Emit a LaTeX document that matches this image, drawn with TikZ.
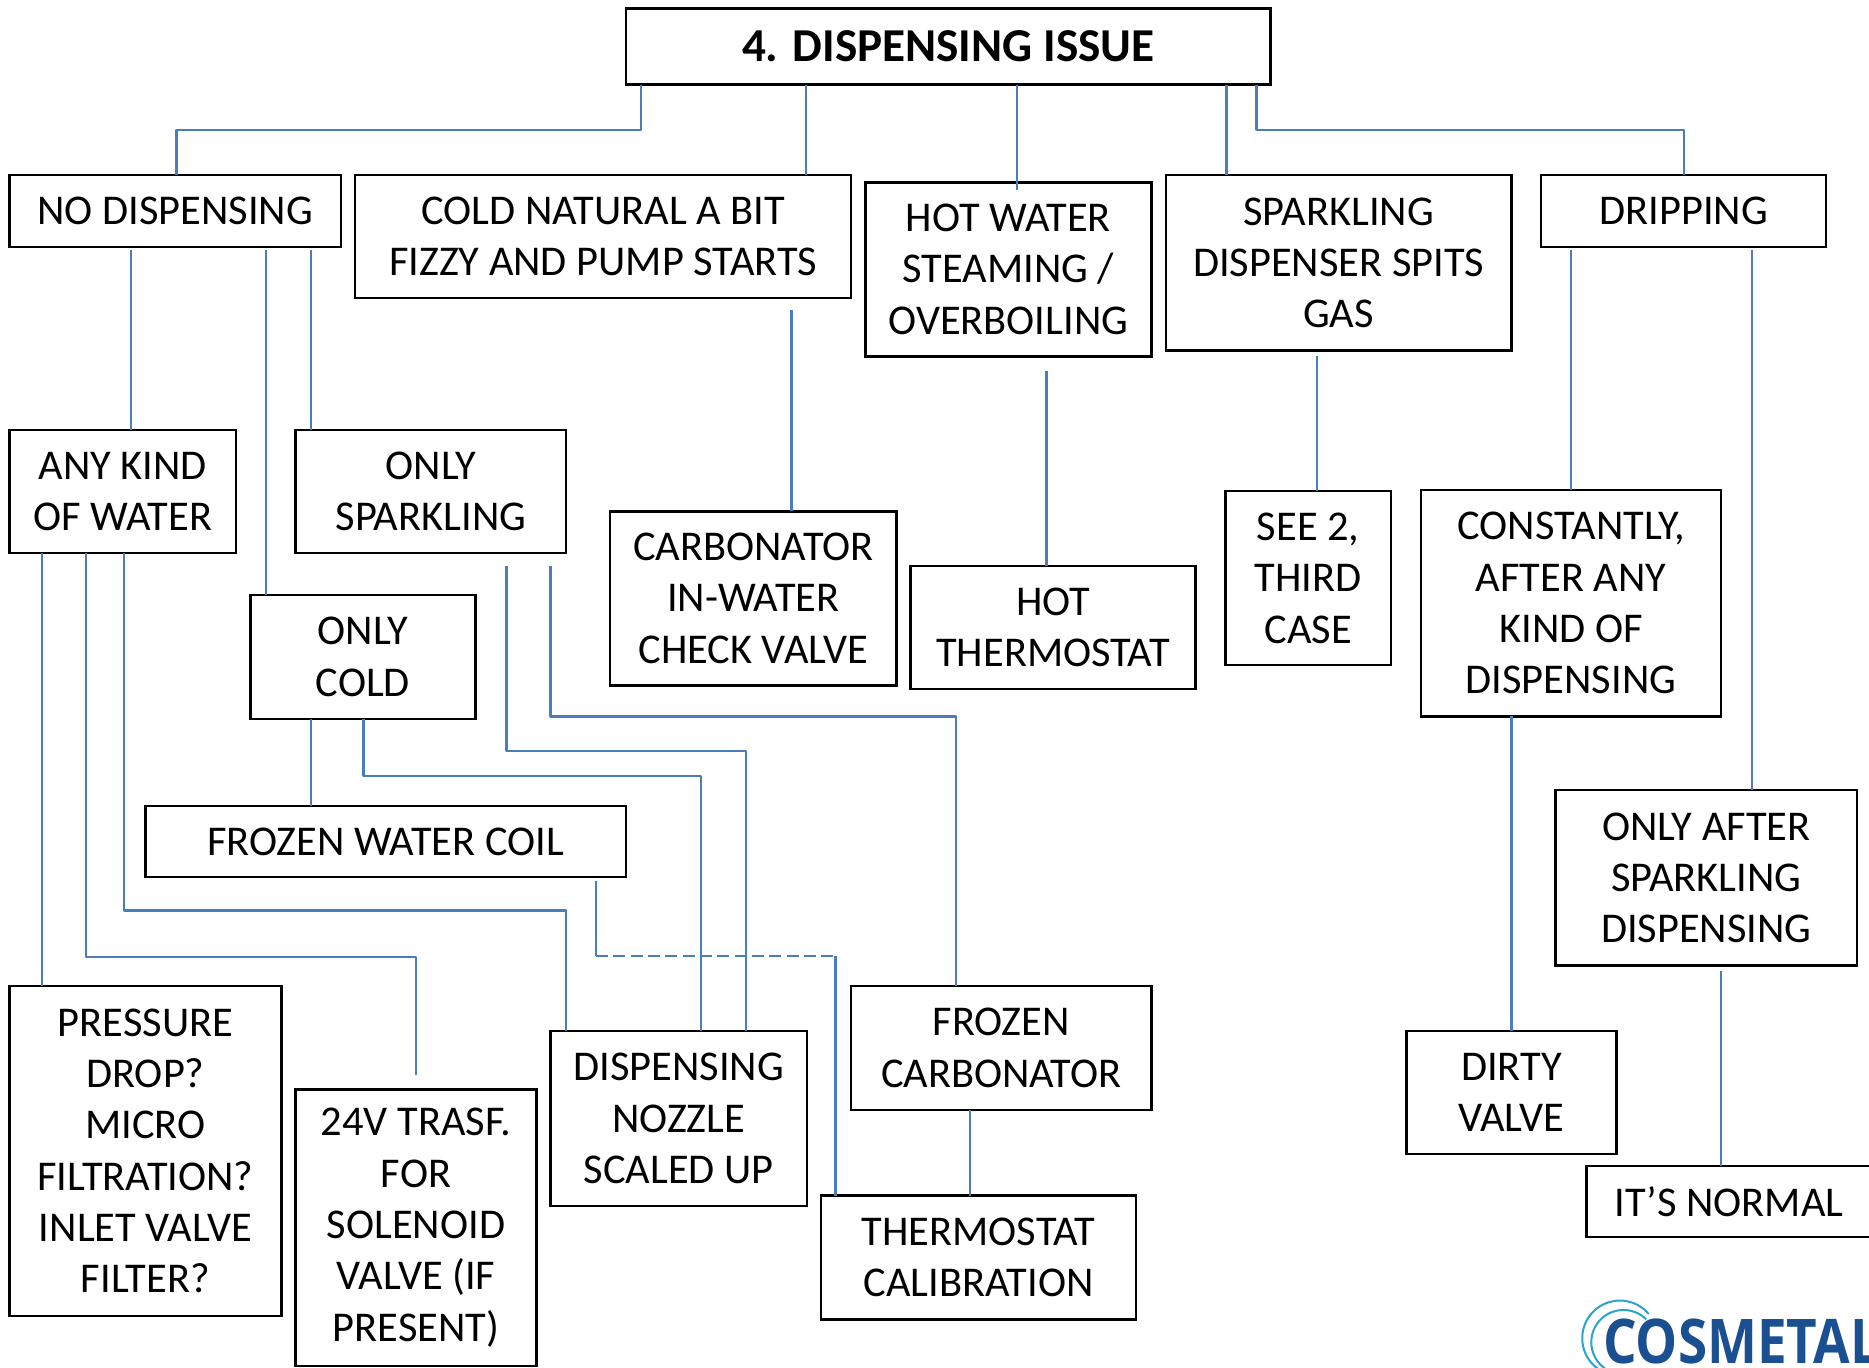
\documentclass[tikz,border=0pt]{standalone}
\usepackage{fontspec}
\setmainfont{Carlito}
\newfontfamily\logofont{Open Sans}
\definecolor{connblue}{HTML}{4A7EBB}
\definecolor{logoblue}{HTML}{1A4F91}
\definecolor{logocyan}{HTML}{2AA3CF}
\tikzset{
  boxn/.style={draw=black,line width=1.8pt,inner sep=0pt,outer sep=0pt,align=center,
    font=\fontsize{31.8}{38.5}\selectfont},
  titlen/.style={boxn,font=\fontsize{35.4}{38.5}\selectfont\bfseries},
  conn/.style={draw=connblue,line width=1.8pt,line join=round},
  gapa/.style={shorten <=2.7pt},
  arcl/.style={draw=logocyan,line width=1.5pt},
  logot/.style={text=logoblue,inner sep=0pt,outer sep=0pt,anchor=base west,xscale=0.86,transform shape,
    font=\fontsize{46.2}{50}\logofont\bfseries}
}
\newcommand\bx[6]{\node[boxn,minimum width={(#4-#2)*0.894pt},minimum height={(#5-#3)*0.894pt}] (#1) at ({(#2+#4)/2},{(#3+#5)/2}) {#6};}
\begin{document}
\begin{tikzpicture}[x=0.894pt,y=-0.894pt]
\useasboundingbox (0,0) rectangle (1568,1147);
\fill[white] (0,0) rectangle (1568,1147);
\clip (0,0) rectangle (1568,1147);
\node[titlen,minimum width={541*0.894pt},minimum height={64*0.894pt}] (top) at (795.5,39) {4. DISPENSING ISSUE};
\bx{nd}{8}{147}{286}{207}{NO DISPENSING}
\bx{cold}{298}{147}{714}{250}{COLD NATURAL A BIT\\FIZZY AND PUMP STARTS}
\bx{hotw}{726}{153}{966}{299}{HOT WATER\\STEAMING /\\OVERBOILING}
\bx{spk}{978}{147}{1268}{294}{SPARKLING\\DISPENSER SPITS\\GAS}
\bx{drip}{1293}{147}{1532}{207}{DRIPPING}
\bx{any}{8}{361}{198}{464}{ANY KIND\\OF WATER}
\bx{onlysp}{248}{361}{475}{464}{ONLY\\SPARKLING}
\bx{onlycold}{210}{499}{399}{603}{ONLY\\COLD}
\bx{coil}{122}{676}{525}{736}{FROZEN WATER COIL}
\bx{carbval}{512}{429}{752}{575}{CARBONATOR\\IN-WATER\\CHECK VALVE}
\bx{hotth}{764}{475}{1003}{578}{HOT\\THERMOSTAT}
\bx{see}{1028}{412}{1167}{558}{SEE 2,\\THIRD\\CASE}
\bx{const}{1192}{411}{1444}{601}{CONSTANTLY,\\AFTER ANY\\KIND OF\\DISPENSING}
\bx{after}{1305}{663}{1558}{810}{ONLY AFTER\\SPARKLING\\DISPENSING}
\bx{press}{8}{827}{236}{1104}{PRESSURE\\DROP?\\MICRO\\FILTRATION?\\INLET VALVE\\FILTER?}
\bx{trasf}{248}{914}{450}{1146}{24V TRASF.\\FOR\\SOLENOID\\VALVE (IF\\PRESENT)}
\bx{nozzle}{462}{865}{677}{1012}{DISPENSING\\NOZZLE\\SCALED UP}
\bx{fcarb}{714}{827}{966}{931}{FROZEN\\CARBONATOR}
\bx{tcal}{689}{1003}{953}{1107}{THERMOSTAT\\CALIBRATION}
\bx{dirty}{1180}{865}{1356}{968}{DIRTY\\VALVE}
\bx{normal}{1331}{978}{1570}{1038}{IT’S NORMAL}
% connectors
\draw[conn] (top.south -| 538,0) -- (538,109) -- (148,109) -- (nd.north -| 148,0);
\draw[conn] (top.south -| 676,0) -- (cold.north -| 676,0);
\draw[conn] (top.south -| 853,0) -- (853,159);
\draw[conn] (top.south -| 1029,0) -- (spk.north -| 1029,0);
\draw[conn] (top.south -| 1054,0) -- (1054,109) -- (1413,109) -- (drip.north -| 1413,0);
\draw[conn,gapa] (nd.south -| 110,0) -- (any.north -| 110,0);
\draw[conn,gapa] (nd.south -| 223,0) -- (onlycold.north -| 223,0);
\draw[conn,gapa] (nd.south -| 261,0) -- (onlysp.north -| 261,0);
\draw[conn,shorten <=9pt] (cold.south -| 664,0) -- (carbval.north -| 664,0);
\draw[conn,shorten <=10.7pt] (hotw.south -| 878,0) -- (hotth.north -| 878,0);
\draw[conn,shorten <=4.5pt] (spk.south -| 1105,0) -- (see.north -| 1105,0);
\draw[conn,gapa] (drip.south -| 1318,0) -- (const.north -| 1318,0);
\draw[conn,gapa] (drip.south -| 1470,0) -- (after.north -| 1470,0);
\draw[conn] (any.south -| 35,0) -- (press.north -| 35,0);
\draw[conn,shorten >=10.7pt] (any.south -| 72,0) -- (72,803) -- (349,803) -- (trasf.north -| 349,0);
\draw[conn] (any.south -| 104,0) -- (104,764) -- (475,764) -- (nozzle.north -| 475,0);
\draw[conn,shorten <=9.8pt] (onlysp.south -| 425,0) -- (425,630) -- (626,630) -- (nozzle.north -| 626,0);
\draw[conn,shorten <=9.8pt] (onlysp.south -| 462,0) -- (462,601) -- (802,601) -- (fcarb.north -| 802,0);
\draw[conn] (onlycold.south -| 261,0) -- (coil.north -| 261,0);
\draw[conn] (onlycold.south -| 305,0) -- (305,651) -- (588,651) -- (nozzle.north -| 588,0);
\coordinate (dashl) at (500,802);
\coordinate (dashr) at (701,802);
\draw[conn,gapa] (coil.south -| 500,0) -- (dashl);
\draw[conn,dash pattern=on 9pt off 4pt] (dashl) -- (dashr);
\draw[conn] (dashr) -- (tcal.north -| 701,0);
\draw[conn] (fcarb.south -| 814,0) -- (tcal.north -| 814,0);
\draw[conn] (const.south -| 1268,0) -- (dirty.north -| 1268,0);
\draw[conn,shorten <=4.5pt] (after.south -| 1444,0) -- (normal.north -| 1444,0);
% logo
\node[logot] (logotext) at (1345,1144) {COSMETAL};
\draw[arcl] plot[domain=40:240,samples=40] ({1359+31.6*cos(\x)},{1122.7-31.6*sin(\x)});
\draw[arcl] plot[domain=45:235,samples=40] ({1362+27*cos(\x)},{1126-27*sin(\x)});
\end{tikzpicture}
\end{document}
